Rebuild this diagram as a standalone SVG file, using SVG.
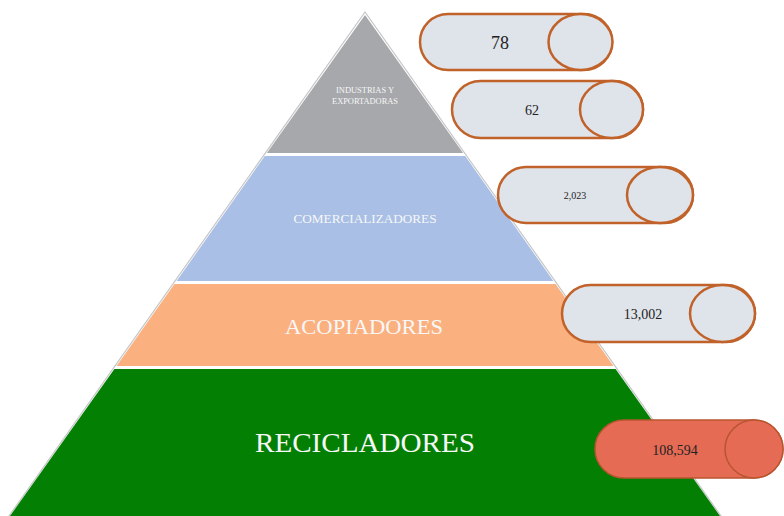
<svg xmlns="http://www.w3.org/2000/svg" width="784" height="516" viewBox="0 0 784 516">
<style>
.tier-label{font-family:"Liberation Serif","DejaVu Serif",serif;fill:#f7f7f7;text-anchor:middle}
.num{font-family:"Liberation Serif","DejaVu Serif",serif;fill:#222;text-anchor:middle}
.pill{fill:#dfe4ea;stroke:#c0622a;stroke-width:2.5}
.pill-red{fill:#e66b55;stroke:#b8552f;stroke-width:1.5}
</style>
<rect width="784" height="516" fill="#ffffff"/>
<g id="pyramid">
<polygon points="365,12 9,516 721,516" fill="#ffffff" stroke="#c6c6c6" stroke-width="1.2"/>
</g>
<g id="tier-industrias">
<polygon points="365,15 266.9,153 463.1,153" fill="#a6a8ab"/>
<text class="tier-label" x="365" y="93" font-size="8" textLength="58" lengthAdjust="spacingAndGlyphs">INDUSTRIAS Y</text>
<text class="tier-label" x="365" y="104" font-size="8" textLength="66" lengthAdjust="spacingAndGlyphs">EXPORTADORAS</text>
</g>
<g id="tier-comercializadores">
<polygon points="264.8,156 465.2,156 553.4,281 176.6,281" fill="#a9bfe6"/>
<text class="tier-label" x="365" y="223" font-size="13" textLength="143" lengthAdjust="spacingAndGlyphs">COMERCIALIZADORES</text>
</g>
<g id="tier-acopiadores">
<polygon points="174.4,284 555.6,284 613.5,366 116.5,366" fill="#fbb17f"/>
<text class="tier-label" x="364" y="334" font-size="22" textLength="158" lengthAdjust="spacingAndGlyphs">ACOPIADORES</text>
</g>
<g id="tier-recicladores">
<polygon points="114.4,369 615.6,369 720,516 10,516" fill="#037f04"/>
<text class="tier-label" x="365" y="452" font-size="28" textLength="220" lengthAdjust="spacingAndGlyphs">RECICLADORES</text>
</g>
<g id="pill-78">
<rect class="pill" x="420" y="14" width="192" height="56" rx="28"/>
<ellipse class="pill" cx="580.5" cy="42" rx="32" ry="28"/>
<text class="num" x="500" y="48.5" font-size="18">78</text>
</g>
<g id="pill-62">
<rect class="pill" x="452" y="81" width="191" height="57" rx="28.5"/>
<ellipse class="pill" cx="611.5" cy="109.5" rx="31.5" ry="28.5"/>
<text class="num" x="532" y="114.5" font-size="14">62</text>
</g>
<g id="pill-2023">
<rect class="pill" x="498" y="167" width="195" height="56" rx="28"/>
<ellipse class="pill" cx="660" cy="195" rx="33" ry="28"/>
<text class="num" x="575" y="198.5" font-size="10">2,023</text>
</g>
<g id="pill-13002">
<rect class="pill" x="562" y="285" width="193" height="57" rx="28.5"/>
<ellipse class="pill" cx="722.5" cy="313.5" rx="32.5" ry="28.5"/>
<text class="num" x="643" y="318.5" font-size="14">13,002</text>
</g>
<g id="pill-108594">
<rect class="pill-red" x="595" y="420" width="188" height="58" rx="29"/>
<ellipse class="pill-red" cx="754" cy="449" rx="29" ry="29"/>
<text class="num" x="675" y="454.5" font-size="14">108,594</text>
</g>
</svg>
